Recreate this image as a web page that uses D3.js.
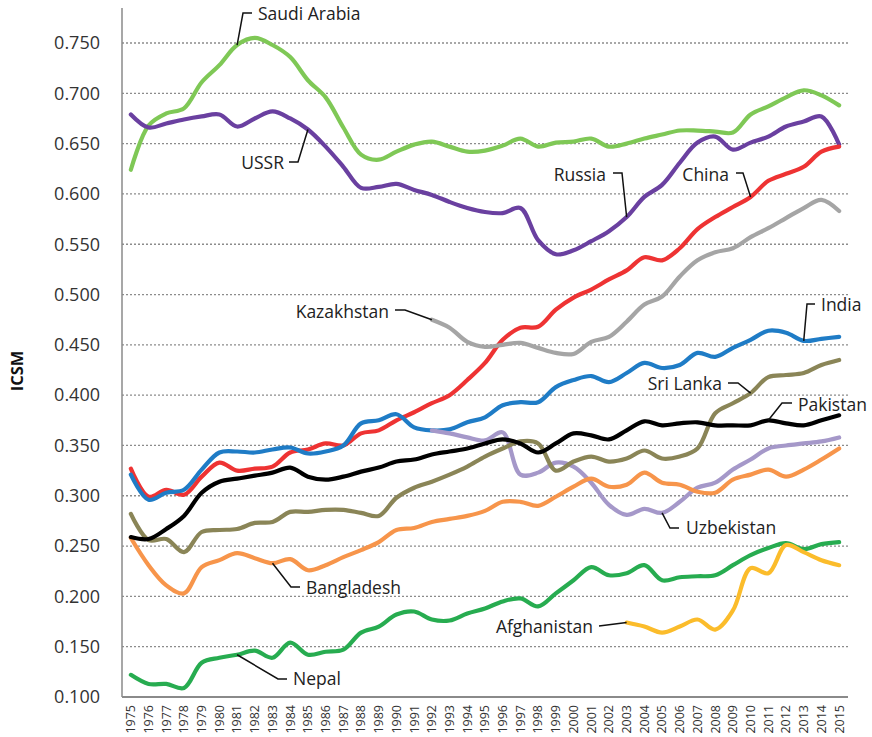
<!DOCTYPE html>
<html>
<head>
<meta charset="utf-8">
<script src="https://cdn.jsdelivr.net/npm/d3@7"></script>
<style>
  body { margin: 0; background: #fff; }
  svg { display: block; font-family: "Open Sans", "DejaVu Sans", sans-serif; }
</style>
</head>
<body>
<script>
/* Data */
var years = d3.range(1975, 2016);
var yTicks = [0.100, 0.150, 0.200, 0.250, 0.300, 0.350, 0.400, 0.450, 0.500, 0.550, 0.600, 0.650, 0.700, 0.750];

var saudiArabia = [0.624, 0.668, 0.680, 0.685, 0.711, 0.728, 0.748, 0.755, 0.748, 0.736, 0.713, 0.696, 0.666, 0.639, 0.634, 0.642, 0.649, 0.652, 0.647, 0.642, 0.643, 0.648, 0.655, 0.647, 0.651, 0.652, 0.655, 0.647, 0.650, 0.655, 0.659, 0.663, 0.663, 0.662, 0.661, 0.679, 0.687, 0.696, 0.703, 0.698, 0.688];
var ussrRussia = [0.679, 0.666, 0.670, 0.674, 0.677, 0.679, 0.667, 0.675, 0.682, 0.675, 0.664, 0.647, 0.627, 0.606, 0.607, 0.610, 0.604, 0.599, 0.592, 0.586, 0.582, 0.581, 0.586, 0.554, 0.540, 0.544, 0.553, 0.563, 0.577, 0.597, 0.609, 0.631, 0.651, 0.657, 0.644, 0.651, 0.657, 0.667, 0.672, 0.677, 0.649];
var china = [0.327, 0.299, 0.306, 0.301, 0.319, 0.333, 0.325, 0.327, 0.329, 0.343, 0.346, 0.352, 0.350, 0.362, 0.365, 0.375, 0.383, 0.392, 0.400, 0.415, 0.432, 0.455, 0.467, 0.468, 0.485, 0.497, 0.505, 0.515, 0.524, 0.537, 0.534, 0.546, 0.565, 0.577, 0.587, 0.597, 0.613, 0.620, 0.627, 0.642, 0.647];
var kazakhstan = [null, null, null, null, null, null, null, null, null, null, null, null, null, null, null, null, null, 0.475, 0.467, 0.453, 0.448, 0.450, 0.452, 0.447, 0.442, 0.441, 0.453, 0.458, 0.473, 0.490, 0.498, 0.518, 0.534, 0.542, 0.546, 0.557, 0.566, 0.576, 0.586, 0.594, 0.583];
var india = [0.321, 0.296, 0.303, 0.306, 0.326, 0.343, 0.344, 0.343, 0.346, 0.348, 0.342, 0.344, 0.350, 0.372, 0.375, 0.381, 0.368, 0.365, 0.366, 0.373, 0.378, 0.390, 0.393, 0.393, 0.408, 0.415, 0.419, 0.413, 0.422, 0.432, 0.427, 0.430, 0.442, 0.438, 0.447, 0.455, 0.464, 0.462, 0.454, 0.456, 0.458];
var sriLanka = [0.282, 0.256, 0.257, 0.244, 0.264, 0.266, 0.267, 0.273, 0.274, 0.284, 0.284, 0.286, 0.286, 0.283, 0.280, 0.298, 0.308, 0.314, 0.321, 0.329, 0.339, 0.347, 0.354, 0.352, 0.325, 0.334, 0.339, 0.334, 0.337, 0.345, 0.337, 0.339, 0.347, 0.382, 0.392, 0.402, 0.418, 0.420, 0.422, 0.430, 0.435];
var pakistan = [0.259, 0.257, 0.267, 0.280, 0.303, 0.314, 0.317, 0.320, 0.323, 0.328, 0.319, 0.316, 0.319, 0.324, 0.328, 0.334, 0.336, 0.341, 0.344, 0.347, 0.352, 0.356, 0.352, 0.343, 0.352, 0.362, 0.360, 0.356, 0.365, 0.374, 0.370, 0.372, 0.373, 0.370, 0.370, 0.370, 0.375, 0.372, 0.370, 0.375, 0.380];
var uzbekistan = [null, null, null, null, null, null, null, null, null, null, null, null, null, null, null, null, null, 0.365, 0.362, 0.358, 0.355, 0.363, 0.321, 0.323, 0.333, 0.329, 0.313, 0.291, 0.281, 0.287, 0.283, 0.294, 0.308, 0.313, 0.326, 0.336, 0.347, 0.350, 0.352, 0.354, 0.358];
var bangladesh = [0.258, 0.231, 0.211, 0.203, 0.229, 0.236, 0.243, 0.238, 0.233, 0.237, 0.226, 0.231, 0.239, 0.246, 0.254, 0.266, 0.268, 0.274, 0.277, 0.280, 0.285, 0.294, 0.294, 0.290, 0.299, 0.309, 0.317, 0.309, 0.311, 0.323, 0.313, 0.311, 0.304, 0.303, 0.316, 0.321, 0.326, 0.319, 0.326, 0.336, 0.347];
var nepal = [0.122, 0.113, 0.113, 0.109, 0.134, 0.139, 0.142, 0.146, 0.139, 0.154, 0.142, 0.145, 0.147, 0.164, 0.170, 0.182, 0.185, 0.177, 0.176, 0.183, 0.188, 0.195, 0.198, 0.190, 0.203, 0.216, 0.229, 0.221, 0.223, 0.231, 0.216, 0.219, 0.220, 0.221, 0.231, 0.241, 0.248, 0.253, 0.247, 0.252, 0.254];
var afghanistan = [null, null, null, null, null, null, null, null, null, null, null, null, null, null, null, null, null, null, null, null, null, null, null, null, null, null, null, null, 0.174, 0.170, 0.164, 0.170, 0.177, 0.167, 0.186, 0.228, 0.223, 0.251, 0.244, 0.236, 0.231];

var series = [
  {name: "Saudi Arabia", values: saudiArabia, color: "#7fc856"},
  {name: "USSR / Russia", values: ussrRussia, color: "#6a40a0"},
  {name: "China", values: china, color: "#ee3333"},
  {name: "Kazakhstan", values: kazakhstan, color: "#a5a5a5"},
  {name: "India", values: india, color: "#1f7cc6"},
  {name: "Uzbekistan", values: uzbekistan, color: "#a598c9"},
  {name: "Bangladesh", values: bangladesh, color: "#f7954b"},
  {name: "Sri Lanka", values: sriLanka, color: "#8a8557"},
  {name: "Pakistan", values: pakistan, color: "#000000"},
  {name: "Nepal", values: nepal, color: "#27ac50"},
  {name: "Afghanistan", values: afghanistan, color: "#fbbc2b"}
];

/* Display setup */
var width = 872, height = 737,
  plot = {left: 122, right: 848, top: 43, bottom: 697, axisTop: 8};

var x = d3.scalePoint().domain(years).range([plot.left, plot.right]).padding(0.5),
  y = d3.scaleLinear().domain([0.1, 0.75]).range([plot.bottom, plot.top]);

var svg = d3.select("body").append("svg")
  .attr("width", width)
  .attr("height", height);

// gridlines
svg.append("g")
  .selectAll("line")
  .data(yTicks.filter(function(d) { return d > 0.1; }))
  .enter().append("line")
    .attr("x1", plot.left).attr("x2", plot.right)
    .attr("y1", function(d) { return y(d); }).attr("y2", function(d) { return y(d); })
    .style("stroke", "#8c8c8c").style("stroke-width", 1.3).style("stroke-dasharray", "2,2");

// y axis tick labels
svg.append("g")
  .selectAll("text")
  .data(yTicks)
  .enter().append("text")
    .attr("x", 100)
    .attr("y", function(d) { return y(d); })
    .attr("dy", "0.35em")
    .attr("text-anchor", "end")
    .style("font-size", "18px").style("fill", "#333")
    .text(d3.format(".3f"));

// x axis labels (rotated)
svg.append("g")
  .selectAll("text")
  .data(years)
  .enter().append("text")
    .attr("transform", function(d) { return "translate(" + x(d) + ",705) rotate(-90)"; })
    .attr("dy", "0.35em")
    .attr("text-anchor", "end")
    .style("font-size", "12.5px").style("fill", "#333")
    .text(function(d) { return d; });

// axis lines
svg.append("line")
  .attr("x1", plot.left).attr("x2", plot.left)
  .attr("y1", plot.axisTop).attr("y2", plot.bottom)
  .style("stroke", "#8a8a8a").style("stroke-width", 1.5);
svg.append("line")
  .attr("x1", plot.left).attr("x2", plot.right)
  .attr("y1", plot.bottom).attr("y2", plot.bottom)
  .style("stroke", "#8a8a8a").style("stroke-width", 2);

svg.append("text")
  .attr("transform", "translate(23,371) rotate(-90)")
  .attr("text-anchor", "middle")
  .style("font-size", "16.5px").style("font-weight", "bold").style("fill", "#111")
  .text("ICSM");

// lines
var line = d3.line()
  .defined(function(d) { return d != null; })
  .x(function(d, i) { return x(years[i]); })
  .y(function(d) { return y(d); })
  .curve(d3.curveCatmullRom.alpha(0.5));

svg.append("g")
  .selectAll("path")
  .data(series)
  .enter().append("path")
    .attr("d", function(d) { return line(d.values); })
    .style("fill", "none")
    .style("stroke", function(d) { return d.color; })
    .style("stroke-width", 4.2)
    .style("stroke-linejoin", "round")
    .style("stroke-linecap", "round");

/* Labels with leader lines: anchored on a data point, elbow + text placed by hand */
var labels = [
  {text: "Saudi Arabia", values: saudiArabia, year: 1981, pts: [[243, 13], [252, 13]], tx: 258, ty: 14, anchor: "start"},
  {text: "USSR", values: ussrRussia, year: 1985, pts: [[298, 162], [289, 162]], tx: 284, ty: 163, anchor: "end"},
  {text: "Russia", values: ussrRussia, year: 2003, pts: [[622, 173], [613, 173]], tx: 606, ty: 175, anchor: "end"},
  {text: "China", values: china, year: 2010, pts: [[743, 173], [736, 173]], tx: 729, ty: 175, anchor: "end"},
  {text: "Kazakhstan", values: kazakhstan, year: 1992, pts: [[405, 310], [395, 310]], tx: 389, ty: 312, anchor: "end"},
  {text: "India", values: india, year: 2013, pts: [[807, 304], [815, 304]], tx: 821, ty: 305, anchor: "start"},
  {text: "Sri Lanka", values: sriLanka, year: 2010, pts: [[738, 383], [728, 383]], tx: 722, ty: 384, anchor: "end"},
  {text: "Pakistan", values: pakistan, year: 2011, pts: [[782, 403], [792, 403]], tx: 798, ty: 405, anchor: "start"},
  {text: "Uzbekistan", values: uzbekistan, year: 2005, pts: [[670, 528], [679, 528]], tx: 686, ty: 528, anchor: "start"},
  {text: "Bangladesh", values: bangladesh, year: 1983, pts: [[291, 587], [300, 587]], tx: 306, ty: 588, anchor: "start"},
  {text: "Nepal", values: nepal, year: 1981, pts: [[278, 679], [287, 679]], tx: 293, ty: 679, anchor: "start"},
  {text: "Afghanistan", values: afghanistan, year: 2003, pts: [[599, 626]], tx: 593, ty: 627, anchor: "end"}
];

var leader = d3.line();
labels.forEach(function(l) {
  var i = years.indexOf(l.year);
  var p = [[x(l.year), y(l.values[i])]].concat(l.pts);
  svg.append("path")
    .attr("d", leader(p))
    .style("fill", "none").style("stroke", "#111").style("stroke-width", 1.5);
  svg.append("text")
    .attr("x", l.tx).attr("y", l.ty)
    .attr("dy", "0.35em")
    .attr("text-anchor", l.anchor)
    .style("font-size", "17.5px").style("fill", "#222")
    .text(l.text);
});
</script>
</body>
</html>
